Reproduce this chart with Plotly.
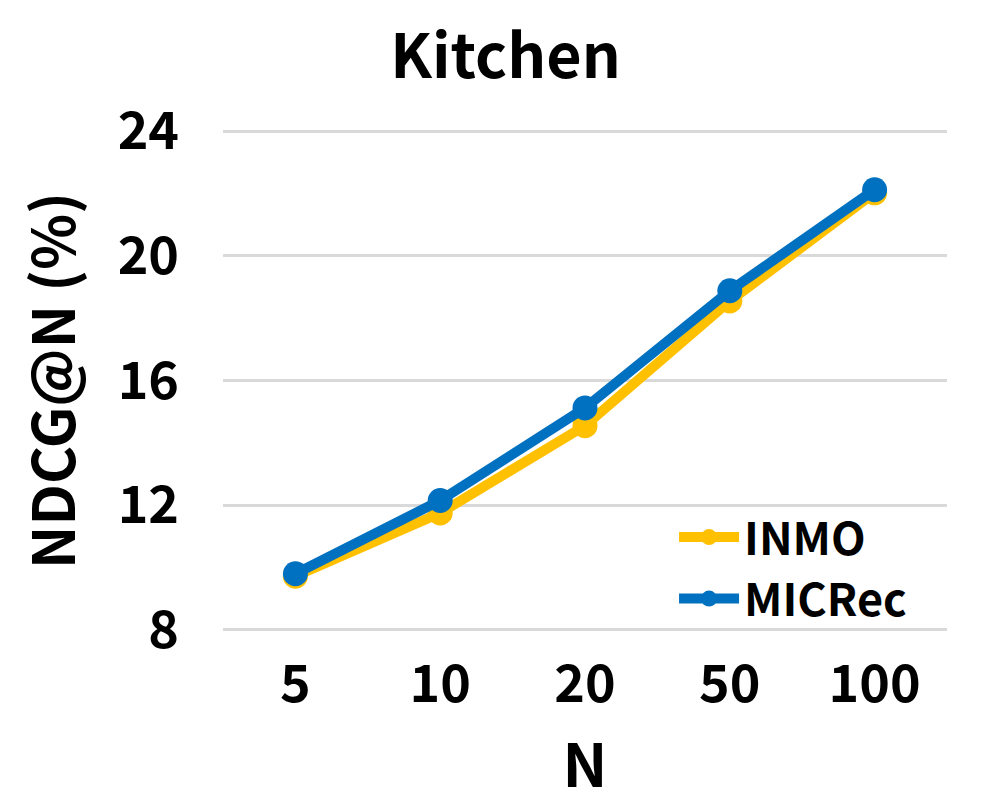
import plotly.graph_objects as go

categories = ["5", "10", "20", "50", "100"]
inmo = [9.72, 11.75, 14.55, 18.55, 22.02]
micrec = [9.8, 12.15, 15.12, 18.88, 22.12]
y_ticks = [8, 12, 16, 20, 24]

FONT = "Noto Sans CJK KR"

fig = go.Figure()
fig.add_trace(go.Scatter(x=categories, y=inmo, name="INMO", mode="lines+markers",
                         line=dict(color="#FFC000", width=10),
                         marker=dict(color="#FFC000", size=25)))
fig.add_trace(go.Scatter(x=categories, y=micrec, name="MICRec", mode="lines+markers",
                         line=dict(color="#0070C0", width=10),
                         marker=dict(color="#0070C0", size=25)))

fig.update_layout(
    width=995, height=809,
    margin=dict(l=215, r=56, t=120, b=184),
    paper_bgcolor="white", plot_bgcolor="white",
    font=dict(family=FONT, color="black", size=50, weight="bold"),
    title=dict(text="Kitchen", x=0.5, xanchor="center", y=0.94, yanchor="middle",
               font=dict(size=61, family=FONT, weight="bold")),
    xaxis=dict(type="category", range=[-0.5, 4.5], showgrid=False, zeroline=False,
               showline=False, ticks="",
               tickfont=dict(size=52, family=FONT, weight="bold"),
               ticklabelstandoff=16,
               title=dict(text="N", font=dict(size=60, family=FONT, weight="bold"), standoff=8)),
    yaxis=dict(range=[7.9, 24.1], tickvals=y_ticks, showgrid=True, gridcolor="#D9D9D9",
               gridwidth=3, zeroline=False, showline=False, ticks="",
               tickfont=dict(size=52, family=FONT, weight="bold"), ticklabelstandoff=43,
               title=dict(text="NDCG@N (%)", font=dict(size=58, family=FONT, weight="bold"),
                          standoff=28)),
    legend=dict(x=0.623, y=0.129, xanchor="left", yanchor="middle",
                font=dict(size=45, family=FONT, weight="bold"), bgcolor="rgba(0,0,0,0)",
                itemwidth=60, tracegroupgap=0),
    showlegend=True,
)

fig.write_html("out.html")
